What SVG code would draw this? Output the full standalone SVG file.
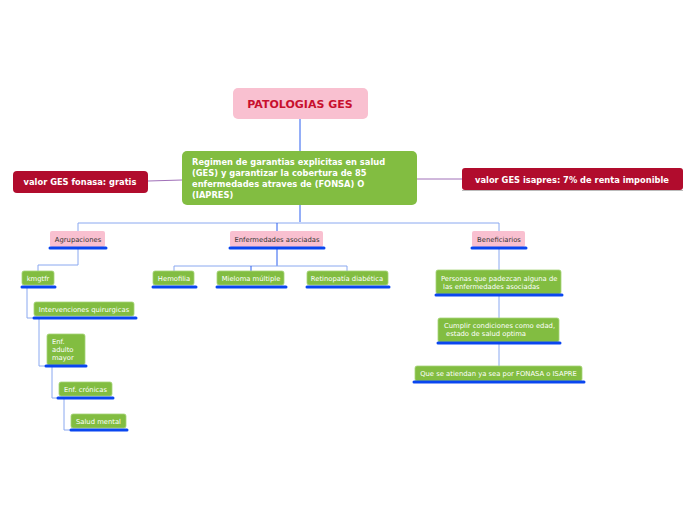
<svg xmlns="http://www.w3.org/2000/svg" width="696" height="520" viewBox="0 0 696 520">
<style>
.g{fill:#82bd41;stroke:#a6d47a;stroke-width:0.8}
.p{fill:#f9c0d0}
.r{fill:#b10c2d}
.bar{stroke:#0a46f0;stroke-width:3;stroke-linecap:round}
.c{fill:none;stroke:#8aa8f0;stroke-width:1}
.cb{fill:none;stroke:#2a5ff0;stroke-width:1}
.cp{fill:none;stroke:#a070b8;stroke-width:1}
text{font-family:"DejaVu Sans",Verdana,sans-serif}
.w{fill:#fff;font-size:6.8px}
.k{fill:#333;font-size:6.8px}
</style>
<rect width="696" height="520" fill="#fff"/>
<g id="connectors">
<path class="cb" d="M300,119V151"/>
<path class="cb" d="M300,205V222"/>
<path class="c" d="M78,231V223H499V231"/>
<path class="cb" d="M277,231V223"/>
<path class="cp" d="M148,181L182,180"/>
<path class="cp" d="M417,179H462"/>
<path class="c" d="M78,249V265H38V271"/>
<path class="cb" d="M277,249V266"/>
<path class="c" d="M174,271V266H347V271"/>
<path class="cb" d="M251,266V271"/>
<path class="c" d="M27,288V318H34"/>
<path class="c" d="M39,318V366H46"/>
<path class="c" d="M52,366V398H58"/>
<path class="c" d="M64,398V430H71"/>
<path class="c" d="M499,249V366"/>
</g>
<g id="n-root"><rect class="p" x="233" y="88" width="135" height="31" rx="5"/><text x="300" y="108" text-anchor="middle" font-size="11" font-weight="bold" fill="#c8102e">PATOLOGIAS GES</text></g>
<g id="n-central"><rect x="182" y="151" width="235" height="54" rx="5" fill="#82bd41"/>
<text font-size="8.3" font-weight="bold" fill="#fff"><tspan x="192" y="165">Regimen de garantias explicitas en salud</tspan><tspan x="192" y="176">(GES) y garantizar la cobertura de 85</tspan><tspan x="192" y="187">enfermedades atraves de (FONSA) O</tspan><tspan x="192" y="198">(IAPRES)</tspan></text></g>
<g id="n-fonasa"><rect class="r" x="13" y="171" width="135" height="22" rx="4"/><text x="80" y="185" text-anchor="middle" font-size="8.3" font-weight="bold" fill="#fff">valor GES fonasa: gratis</text></g>
<g id="n-isapres"><rect class="r" x="462" y="168" width="221" height="22" rx="3"/><line x1="462" y1="190.5" x2="683" y2="190.5" stroke="#bbb"/><text x="572" y="183" text-anchor="middle" font-size="8.3" font-weight="bold" fill="#fff">valor GES isapres: 7% de renta imponible</text></g>
<g id="n-agr"><rect class="p" x="50" y="231" width="55" height="16" rx="2"/><line class="bar" x1="50" y1="248" x2="106" y2="248"/><text class="k" x="78" y="241.5" text-anchor="middle">Agrupaciones</text></g>
<g id="n-enf"><rect class="p" x="230" y="231" width="93" height="16" rx="2"/><line class="bar" x1="230" y1="248" x2="324" y2="248"/><text class="k" x="277" y="241.5" text-anchor="middle">Enfermedades asociadas</text></g>
<g id="n-ben"><rect class="p" x="472" y="231" width="53" height="16" rx="2"/><line class="bar" x1="472" y1="248" x2="526" y2="248"/><text class="k" x="499" y="241.5" text-anchor="middle">Beneficiarios</text></g>
<g id="n-kmg"><rect class="g" x="22" y="271" width="32" height="14" rx="2"/><line class="bar" x1="22" y1="287" x2="55" y2="287"/><text class="w" x="38" y="280.5" text-anchor="middle">kmgtfr</text></g>
<g id="n-hem"><rect class="g" x="153" y="271" width="41" height="14" rx="2"/><line class="bar" x1="153" y1="287" x2="196" y2="287"/><text class="w" x="174" y="280.5" text-anchor="middle">Hemofilia</text></g>
<g id="n-mie"><rect class="g" x="217" y="271" width="67" height="14" rx="2"/><line class="bar" x1="217" y1="287" x2="286" y2="287"/><text class="w" x="251" y="280.5" text-anchor="middle">Mieloma múltiple</text></g>
<g id="n-ret"><rect class="g" x="307" y="271" width="81" height="14" rx="2"/><line class="bar" x1="307" y1="287" x2="389" y2="287"/><text class="w" x="347" y="280.5" text-anchor="middle">Retinopatía diabética</text></g>
<g id="n-int"><rect class="g" x="34" y="302" width="100" height="14" rx="2"/><line class="bar" x1="34" y1="318" x2="136" y2="318"/><text class="w" x="84" y="311.5" text-anchor="middle">Intervenciones quirurgicas</text></g>
<g id="n-adu"><rect class="g" x="47" y="334" width="38" height="31" rx="2"/><line class="bar" x1="46" y1="366" x2="86" y2="366"/><text class="w"><tspan x="52" y="344">Enf.</tspan><tspan x="52" y="352">adulto</tspan><tspan x="52" y="360">mayor</tspan></text></g>
<g id="n-cro"><rect class="g" x="59" y="382" width="53" height="14" rx="2"/><line class="bar" x1="58" y1="398" x2="113" y2="398"/><text class="w" x="85.5" y="391.5" text-anchor="middle">Enf. crónicas</text></g>
<g id="n-sal"><rect class="g" x="71" y="414" width="55" height="14" rx="2"/><line class="bar" x1="71" y1="430" x2="127" y2="430"/><text class="w" x="98.5" y="423.5" text-anchor="middle">Salud mental</text></g>
<g id="n-per"><rect class="g" x="436" y="270" width="125" height="24" rx="2"/><line class="bar" x1="436" y1="295" x2="562" y2="295"/><text class="w"><tspan x="441" y="281">Personas que padezcan alguna de</tspan><tspan x="443" y="289">las enfermedades asociadas</tspan></text></g>
<g id="n-cum"><rect class="g" x="438" y="318" width="121" height="24" rx="2"/><line class="bar" x1="438" y1="343" x2="560" y2="343"/><text class="w"><tspan x="444" y="328">Cumplir condiciones como edad,</tspan><tspan x="446" y="336">estado de salud optima</tspan></text></g>
<g id="n-que"><rect class="g" x="415" y="366" width="167" height="15" rx="2"/><line class="bar" x1="414" y1="382" x2="584" y2="382"/><text class="w" x="498.5" y="376" text-anchor="middle">Que se atiendan ya sea por FONASA o ISAPRE</text></g>
</svg>
